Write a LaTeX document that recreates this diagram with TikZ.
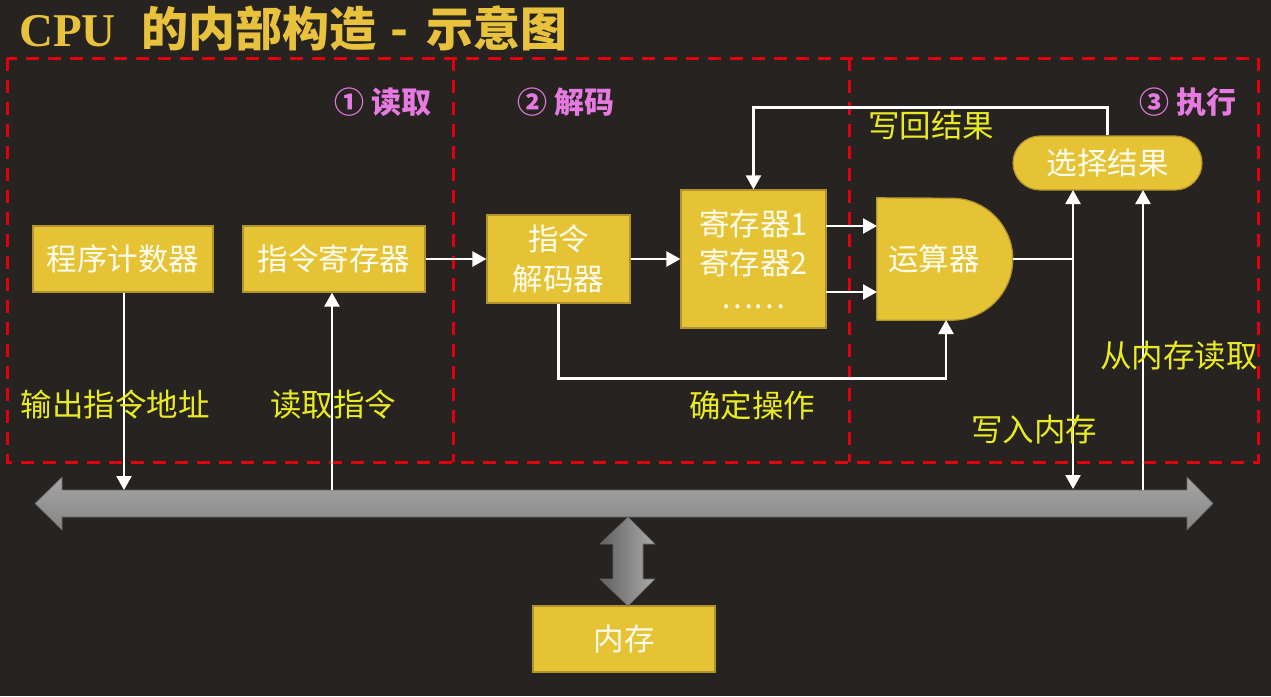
\documentclass[tikz,border=0pt]{standalone}
\usepackage{fontspec}
\setmainfont{Liberation Serif}
\newfontfamily\cjk{Noto Sans CJK SC}
\usetikzlibrary{arrows.meta,shapes.misc}
\definecolor{bgc}{HTML}{262320}
\definecolor{boxy}{HTML}{E6C335}
\definecolor{boxb}{HTML}{B09230}
\definecolor{laby}{HTML}{EAEA22}
\definecolor{pinkc}{HTML}{E67AE0}
\definecolor{titley}{HTML}{E8C23C}
\definecolor{redc}{HTML}{E00010}
\definecolor{boxtext}{HTML}{FFFDF0}
\begin{document}
\begin{tikzpicture}[x=1pt,y=-1pt,
  ybox/.style={draw=boxb,line width=1.2pt,fill=boxy,text=boxtext,inner sep=0pt,
    font=\cjk\fontsize{30.5}{40}\selectfont,align=center},
  conn/.style={draw=white,line width=2.4pt,-{Triangle[width=15pt,length=14pt]}},
  plainline/.style={draw=white,line width=2.4pt},
  ylab/.style={text=laby,inner sep=0pt,font=\cjk\fontsize{31.5}{36}\selectfont},
  plab/.style={text=pinkc,inner sep=0pt,font=\cjk\bfseries\fontsize{30}{36}\selectfont},
  reddash/.style={draw=redc,line width=3pt,dash pattern=on 13pt off 9pt},
  grayarrow/.style={draw=black!60,line width=0.6pt}]
\useasboundingbox[fill=bgc] (0,0) rectangle (1271,696);

% title
\node[anchor=west,inner sep=0pt,text=titley] (title) at (19,28)
  {\fontsize{47}{52}\selectfont\bfseries CPU\hspace{26pt}{\cjk\bfseries 的内部构造\hspace{14pt}-\hspace{18pt}示意图}};

% boxes
\node[ybox,minimum width=180pt,minimum height=66pt] (pc) at (123,259) {程序计数器};
\node[ybox,minimum width=182pt,minimum height=66pt] (ir) at (334,259) {指令寄存器};
\node[ybox,minimum width=143pt,minimum height=88pt] (dec) at (558.5,259) {指令\\解码器};
\node[ybox,minimum width=145pt,minimum height=138pt] (reg) at (753.5,259)
  {寄存器1\\[-1pt]寄存器2\\[-6pt]\fontsize{30}{30}\selectfont ……};
\node[draw=none,minimum width=136pt,minimum height=122pt,inner sep=0pt] (alu) at (945,259) {};
\fill[boxy,draw=boxb,line width=1.2pt] (alu.south west) -- ++(75,0) arc[start angle=90,end angle=-90,radius=61]
  -- (alu.north west) -- cycle;
\node[text=boxtext,inner sep=0pt,font=\cjk\fontsize{30.5}{34}\selectfont] (alut) at (934,259) {运算器};
\node[ybox,rounded rectangle,minimum width=189pt,minimum height=54pt] (sel) at (1107.5,163) {选择结果};
\node[ybox,minimum width=182pt,minimum height=66pt] (mem) at (624,639) {内存};

% bus
\node[minimum width=1178pt,minimum height=27pt,inner sep=0pt] (bus) at (624,503.5) {};
\shade[grayarrow,top color=black!35,bottom color=black!48]
  (35,503.5) -- (62,477) -- (62,490) -- (1187,490) -- (1187,477) -- (1213,503.5)
  -- (1187,530) -- (1187,517) -- (62,517) -- (62,530) -- cycle;
\shade[grayarrow,left color=black!62,right color=black!33]
  (628,517) -- (655,544) -- (643,544) -- (643,579) -- (655,579) -- (628,606)
  -- (600,579) -- (613,579) -- (613,544) -- (600,544) -- cycle;

% coordinates
\coordinate (pcbus) at (124,490);
\coordinate (irbus) at (332,490);
\coordinate (aluin1) at (877,226);
\coordinate (aluin2) at (877,292);
\coordinate (regout1) at (826,226);
\coordinate (regout2) at (826,292);
\coordinate (alub) at (946,320);
\coordinate (aluout) at (1013,259);
\coordinate (jn) at (1073,259);
\coordinate (wbus) at (1073,489);
\coordinate (selin1) at (1073,190);
\coordinate (rbus) at (1143,490);
\coordinate (selin2) at (1143,190);

% red dashed frames
\draw[reddash] (7,58) rectangle (1258,462);
\draw[reddash] (453,58) -- (453,462);
\draw[reddash] (849,58) -- (849,462);

% connectors
\draw[conn] (pc.south -| pcbus) -- (pcbus);
\draw[conn] (irbus) -- (ir.south -| irbus);
\draw[conn] (ir.east) -- (dec.west);
\draw[conn] (dec.east) -- (reg.west |- dec.east);
\draw[conn] (regout1) -- (aluin1);
\draw[conn] (regout2) -- (aluin2);
\draw[conn] (dec.south) -- ++(0,75) -| (alub);
\draw[plainline] (aluout) -- (jn);
\draw[conn] (jn) -- (selin1);
\draw[conn] (jn) -- (wbus);
\draw[conn] (rbus) -- (selin2);
\draw[conn] (sel.north) -- ++(0,-28) -| (reg.north);

% labels
\node[plab] (l1) at (383,102) {① 读取};
\node[plab] (l2) at (566,102) {② 解码};
\node[plab] (l3) at (1188,102) {③ 执行};
\node[ylab] (t1) at (115,405) {输出指令地址};
\node[ylab] (t2) at (333,405) {读取指令};
\node[ylab] (t3) at (752,405) {确定操作};
\node[ylab] (t4) at (931,126) {写回结果};
\node[ylab] (t5) at (1034,430) {写入内存};
\node[ylab] (t6) at (1179,356) {从内存读取};
\end{tikzpicture}
\end{document}
